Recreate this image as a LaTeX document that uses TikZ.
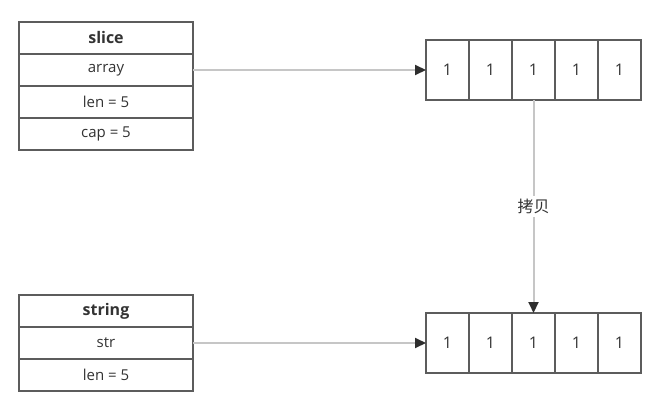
\documentclass[tikz,border=0pt]{standalone}
\usepackage{fontspec}
\setmainfont{Open Sans}
\newfontfamily\cjk{Noto Sans CJK SC}
\usetikzlibrary{arrows.meta,positioning}
\definecolor{edge}{HTML}{5C5C5C}
\definecolor{wire}{HTML}{C6C6C6}
\definecolor{tip}{HTML}{2E2E2E}
\definecolor{ink}{HTML}{333333}
\tikzset{
  >={Triangle[length=11pt,width=10pt,color=tip]},
  link/.style={->,line width=2pt,draw=wire},
  field/.style={draw=edge,line width=1.4pt,outer sep=0pt,minimum width=174pt,
    minimum height=32pt,inner sep=0pt,text=ink,font=\fontsize{15}{17}\selectfont},
  head/.style={field,font=\fontsize{16}{18}\selectfont\bfseries},
  cell/.style={draw=edge,line width=1.4pt,outer sep=0pt,minimum width=43pt,
    minimum height=60pt,inner sep=0pt,text=ink,font=\fontsize{16}{18}\selectfont}
}
\begin{document}
\begin{tikzpicture}[x=1pt,y=-1pt,node distance=0pt]
  \useasboundingbox (0,0) rectangle (666,393);
  % slice header
  \node[head] (slice) at (106,38) {slice};
  \node[field,below=of slice] (array) {array};
  \node[field,below=of array] (slen) {len = 5};
  \node[field,below=of slen] (scap) {cap = 5};
  % backing array of the slice
  \node[cell] (a1) at (447.5,70) {1};
  \node[cell,right=of a1] (a2) {1};
  \node[cell,right=of a2] (a3) {1};
  \node[cell,right=of a3] (a4) {1};
  \node[cell,right=of a4] (a5) {1};
  % string header
  \node[head] (string) at (106,311) {string};
  \node[field,below=of string] (str) {str};
  \node[field,below=of str] (tlen) {len = 5};
  % copied bytes
  \node[cell] (b1) at (447.5,343) {1};
  \node[cell,right=of b1] (b2) {1};
  \node[cell,right=of b2] (b3) {1};
  \node[cell,right=of b3] (b4) {1};
  \node[cell,right=of b4] (b5) {1};
  \draw[link] (array.east) -- (a1.west);
  \draw[link] (str.east) -- (b1.west);
  \draw[link] (a3.south) -- node[fill=white,inner sep=3pt,text=ink,font=\cjk\fontsize{16}{18}\selectfont] (copy) {拷贝} (b3.north);
\end{tikzpicture}
\end{document}
